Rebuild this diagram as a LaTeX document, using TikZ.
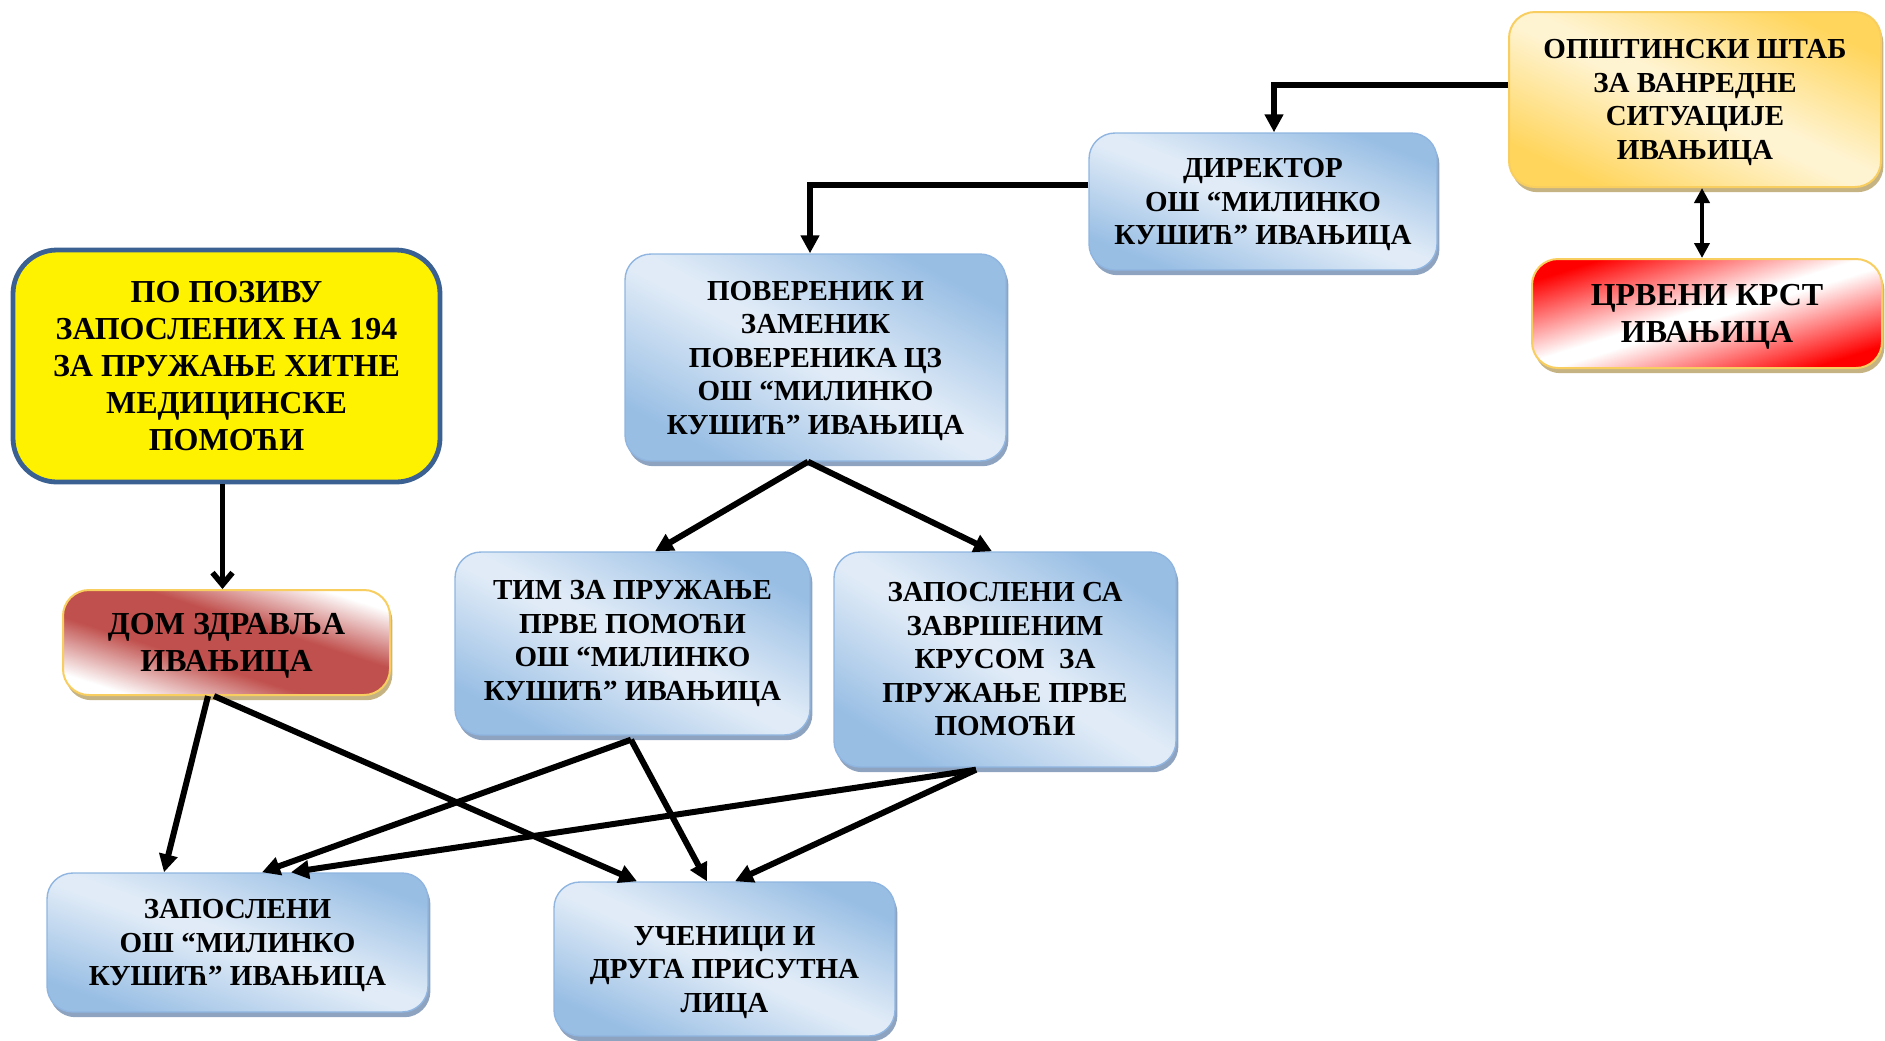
\documentclass[tikz,border=0pt]{standalone}
\usepackage{fontspec}
\setmainfont{Liberation Serif}
\usetikzlibrary{arrows.meta,shadows}
\definecolor{bluedark}{HTML}{98BEE4}
\definecolor{bluelight}{HTML}{E0EBF7}
\definecolor{blueedge}{HTML}{8FB5E0}
\definecolor{blueshadow}{HTML}{8DA3BF}
\definecolor{golddark}{HTML}{FFD55C}
\definecolor{goldlight}{HTML}{FFF4D2}
\definecolor{goldedge}{HTML}{F8CE60}
\definecolor{goldshadow}{HTML}{C6B383}
\definecolor{domred}{HTML}{C0504D}
\definecolor{crvena}{HTML}{FF0000}
\definecolor{pozivedge}{HTML}{3B6192}
\pgfdeclareverticalshading{bluemirror}{100bp}{color(0bp)=(bluedark); color(25bp)=(bluedark); color(48bp)=(bluelight); color(52bp)=(bluelight); color(75bp)=(bluedark); color(100bp)=(bluedark)}
\pgfdeclareverticalshading{goldmirror}{100bp}{color(0bp)=(golddark); color(25bp)=(golddark); color(48bp)=(goldlight); color(52bp)=(goldlight); color(75bp)=(golddark); color(100bp)=(golddark)}
\pgfdeclareverticalshading{redmirror}{100bp}{color(0bp)=(crvena); color(25bp)=(crvena); color(48bp)=(white); color(52bp)=(white); color(75bp)=(crvena); color(100bp)=(crvena)}
\pgfdeclareverticalshading{dommirror}{100bp}{color(0bp)=(white); color(25bp)=(white); color(42bp)=(domred); color(58bp)=(domred); color(75bp)=(white); color(100bp)=(white)}
\begin{document}
\begin{tikzpicture}[x=0.5pt,y=-0.5pt,
  box/.style={rectangle, rounded corners=13pt, align=center, inner sep=0pt},
  smalltxt/.style={font=\bfseries\fontsize{14.5}{16.75}\selectfont},
  bigtxt/.style={font=\bfseries\fontsize{16}{18.5}\selectfont},
  bluebox/.style={box, smalltxt, draw=blueedge, line width=0.7pt,
    shading=bluemirror, shading angle=#1,
    drop shadow={shadow xshift=1.2pt, shadow yshift=-2.6pt, fill=blueshadow, opacity=1}},
  goldbox/.style={box, draw=goldedge, line width=1pt,
    drop shadow={shadow xshift=1.2pt, shadow yshift=-2.6pt, fill=goldshadow, opacity=1}},
  arr/.style={line width=3pt, -{Triangle[length=9pt,width=9pt]}},
  dblarr/.style={line width=2.4pt, {Triangle[length=7.5pt,width=7.5pt]}-{Triangle[length=7.5pt,width=7.5pt]}},
  openarr/.style={line width=2.8pt, -{Straight Barb[length=6pt,width=10pt,line width=2.8pt]}}
]
\useasboundingbox (0,0) rectangle (1885,1040);

% nodes
\node[goldbox, smalltxt, shading=goldmirror, shading angle=-25.2, text depth=0pt,
  minimum width=186pt, minimum height=87.5pt] (shtab) at (1695,99.5)
  {ОПШТИНСКИ ШТАБ\\ЗА ВАНРЕДНЕ\\СИТУАЦИЈЕ\\ИВАЊИЦА};
\node[bluebox=-21.5, text depth=0pt,
  minimum width=174pt, minimum height=68.5pt] (director) at (1263,201.5)
  {ДИРЕКТОР\\ОШ “МИЛИНКО\\КУШИЋ” ИВАЊИЦА};
\node[goldbox, bigtxt, shading=redmirror, shading angle=17.3, text depth=0pt,
  minimum width=175pt, minimum height=54.5pt] (crveni) at (1707,313.5)
  {ЦРВЕНИ КРСТ\\ИВАЊИЦА};
\node[box, bigtxt, rounded corners=22pt, fill=yellow, draw=pozivedge, line width=2.4pt,
  minimum width=213.5pt, minimum height=116pt] (poziv) at (226.5,366)
  {ПО ПОЗИВУ\\ЗАПОСЛЕНИХ НА 194\\ЗА ПРУЖАЊЕ ХИТНЕ\\МЕДИЦИНСКЕ\\ПОМОЋИ};
\node[goldbox, bigtxt, shading=dommirror, shading angle=-17.8, text depth=0pt,
  minimum width=163.5pt, minimum height=52.5pt] (dom) at (226.5,642.5)
  {ДОМ ЗДРАВЉА\\ИВАЊИЦА};
\node[bluebox=-28.5, text depth=0pt,
  minimum width=190.5pt, minimum height=103.5pt] (poverenik) at (815.5,357.5)
  {ПОВЕРЕНИК И\\ЗАМЕНИК\\ПОВЕРЕНИКА ЦЗ\\ОШ “МИЛИНКО\\КУШИЋ” ИВАЊИЦА};
\node[bluebox=-27.3,
  minimum width=177.5pt, minimum height=91.5pt] (tim) at (632.5,643.5)
  {ТИМ ЗА ПРУЖАЊЕ\\ПРВЕ ПОМОЋИ\\ОШ “МИЛИНКО\\КУШИЋ” ИВАЊИЦА};
\node[bluebox=-32.2,
  minimum width=171pt, minimum height=107.5pt] (zapsa) at (1005,659.5)
  {ЗАПОСЛЕНИ СА\\ЗАВРШЕНИМ\\КРУСОМ\ \ ЗА\\ПРУЖАЊЕ ПРВЕ\\ПОМОЋИ};
\node[bluebox=-20, text depth=0pt,
  minimum width=190.5pt, minimum height=69.5pt] (zapos) at (237.5,942.5)
  {ЗАПОСЛЕНИ\\ОШ “МИЛИНКО\\КУШИЋ” ИВАЊИЦА};
\node[bluebox=-24.3,
  minimum width=170.5pt, minimum height=77pt] (ucenici) at (724.5,959)
  {\rule{0pt}{22.8pt}УЧЕНИЦИ И\\ДРУГА ПРИСУТНА\\ЛИЦА};

% connectors
\draw[arr] ([yshift=7.25pt]shtab.west) -| ([xshift=5.5pt]director.north);
\draw[arr] ([yshift=8.25pt]director.west) -| ([xshift=-2.75pt]poverenik.north);
\draw[dblarr] ([xshift=3.5pt]shtab.south) -- ([xshift=3.5pt]shtab.south |- crveni.north);
\draw[openarr] ([xshift=-2pt]poziv.south) -- ([xshift=-2pt]dom.north);
\draw[arr] ([xshift=-3.75pt]poverenik.south) -- ([xshift=11.25pt]tim.north);
\draw[arr] ([xshift=-3.75pt]poverenik.south) -- ([xshift=-6.5pt]zapsa.north);
\draw[arr] ([xshift=-9.25pt]dom.south) -- ([xshift=-36.75pt]zapos.north);
\draw[arr] ([xshift=-6.25pt]dom.south) -- ([xshift=-43.75pt]ucenici.north);
\draw[arr] ([xshift=-0.75pt,yshift=-2pt]tim.south) -- ([xshift=12.25pt]zapos.north);
\draw[arr] ([xshift=-0.75pt,yshift=-2pt]tim.south) -- ([xshift=-8.75pt]ucenici.north);
\draw[arr] ([xshift=-14.5pt,yshift=-1pt]zapsa.south) -- ([xshift=26.75pt]zapos.north);
\draw[arr] ([xshift=-14.5pt,yshift=-1pt]zapsa.south) -- ([xshift=5.25pt]ucenici.north);
\end{tikzpicture}
\end{document}
